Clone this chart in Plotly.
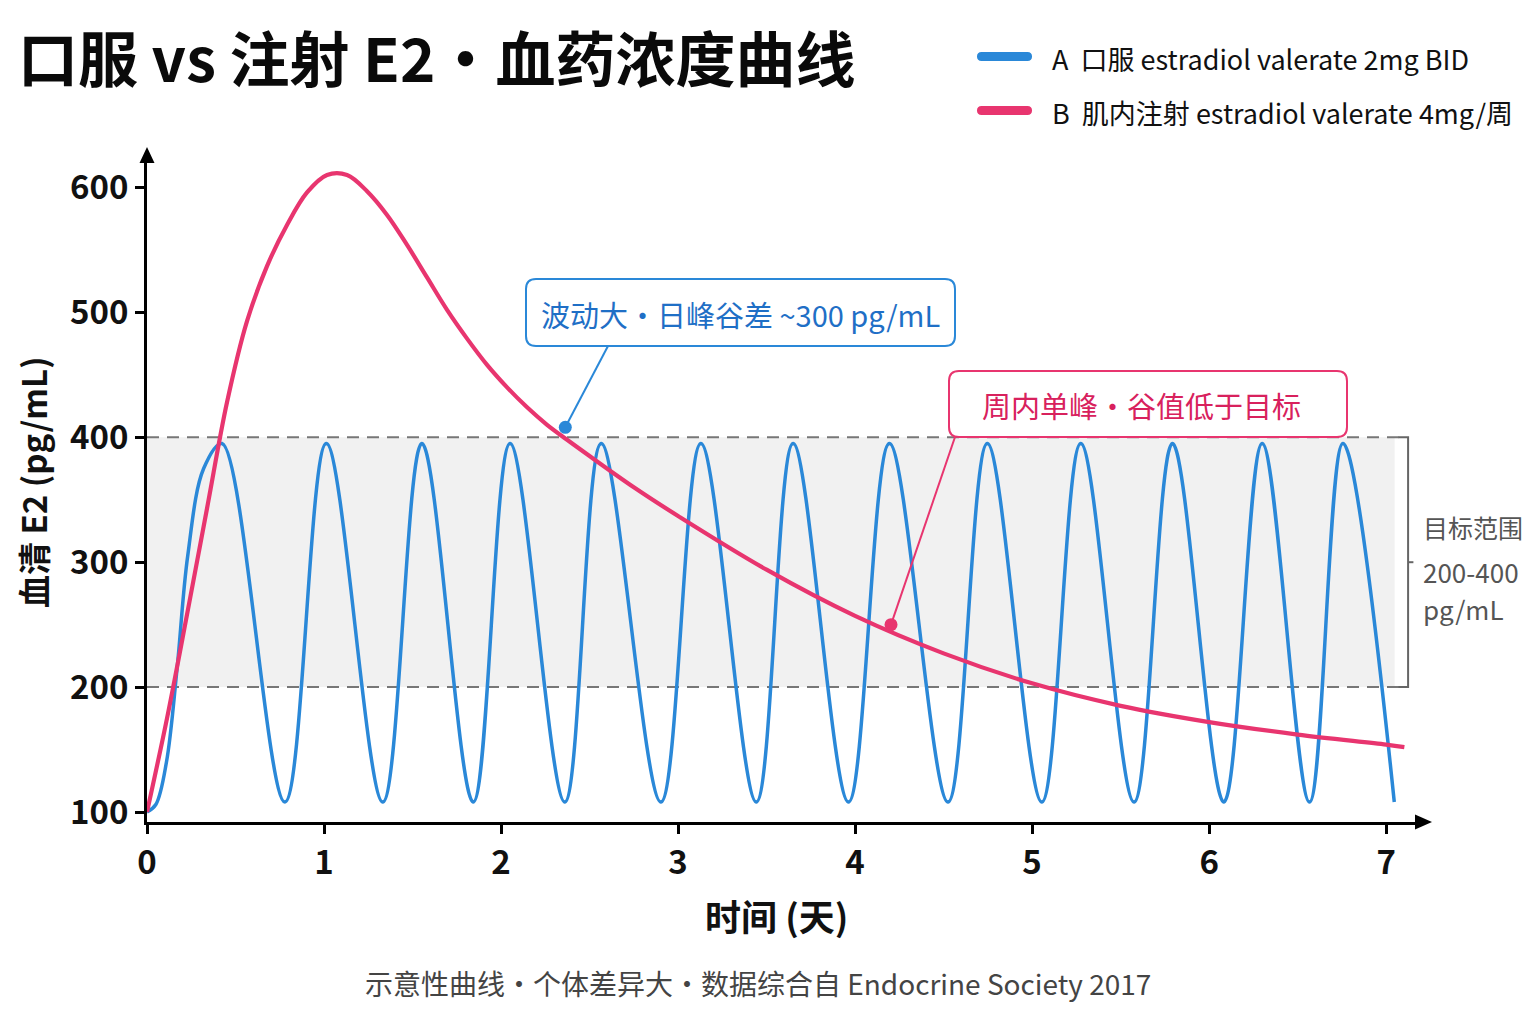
import plotly.graph_objects as go

# ---------------- data ----------------
# A: oral estradiol valerate 2mg BID (days, pg/mL) - first rise, then alternating troughs / peaks
oral_days = [0, 0.050, 0.110, 0.170, 0.230, 0.320, 0.424,
             0.779, 1.013, 1.332, 1.553, 1.843, 2.051, 2.360, 2.566,
             2.903, 3.129, 3.442, 3.650, 3.963, 4.194, 4.525, 4.747,
             5.055, 5.275, 5.576, 5.793, 6.083, 6.300, 6.567, 6.756, 7.046]
oral_e2 = [100, 106, 140, 215, 305, 375, 395,
           108, 395, 108, 395, 108, 395, 108, 395,
           108, 395, 108, 395, 108, 395, 108, 395,
           108, 395, 108, 395, 108, 395, 108, 395, 108]

# B: IM estradiol valerate 4mg / week
im_days = [0, 0.113, 0.226, 0.339, 0.452, 0.565, 0.678, 0.791, 0.904, 1.017,
           1.130, 1.243, 1.356, 1.469, 1.582, 1.695, 1.808, 1.921, 2.034, 2.147,
           2.260, 2.373, 2.500, 2.750, 3.000, 3.500, 4.000, 4.500, 5.000, 5.500,
           6.000, 6.500, 7.000, 7.103]
im_e2 = [100, 175, 258, 343, 428, 493, 537, 570, 596, 610,
         610, 597, 578, 554, 528, 502, 479, 458, 440, 424,
         410, 398, 385, 360, 337, 294, 257, 227, 203, 185,
         172, 162, 154, 152]

x_ticks = [0, 1, 2, 3, 4, 5, 6, 7]
y_ticks = [100, 200, 300, 400, 500, 600]
target_range = [200, 400]

title_text = "口服 vs 注射 E2・血药浓度曲线"
legend_a = "A  口服 estradiol valerate 2mg BID"
legend_b = "B  肌内注射 estradiol valerate 4mg/周"
note_a = "波动大・日峰谷差 ~300 pg/mL"
note_b = "周内单峰・谷值低于目标"
note_a_point = (2.363, 408)
note_b_point = (4.203, 250)
range_label = ["目标范围", "200-400", "pg/mL"]
x_title = "时间 (天)"
y_title = "血清 E2 (pg/mL)"
footnote = "示意性曲线・个体差异大・数据综合自 Endocrine Society 2017"

# ---------------- styling ----------------
BLUE = "#2a88d8"
PINK = "#e8356f"
BLUE_TXT = "#1f6fc6"
PINK_TXT = "#d8215d"
CJK = "Noto Sans CJK SC, sans-serif"

W, H = 1536, 1024
ML, MR, MT, MB = 147, 118, 160, 202
X_RANGE = [0, 7.18]
Y_RANGE = [92, 622]
PW = W - ML - MR
PH = H - MT - MB


def px(x):
    return (x - ML) / PW


def py(y):
    return (H - MB - y) / PH


def P(x, y):
    return f"{px(x):.5f},{py(y):.5f}"


def rrect(x0, y0, x1, y1, r):
    return (f"M {P(x0 + r, y0)} L {P(x1 - r, y0)} Q {P(x1, y0)} {P(x1, y0 + r)} "
            f"L {P(x1, y1 - r)} Q {P(x1, y1)} {P(x1 - r, y1)} L {P(x0 + r, y1)} "
            f"Q {P(x0, y1)} {P(x0, y1 - r)} L {P(x0, y0 + r)} Q {P(x0, y0)} {P(x0 + r, y0)} Z")


def dx(v):
    return (v - X_RANGE[0]) / (X_RANGE[1] - X_RANGE[0])


def dy(v):
    return (v - Y_RANGE[0]) / (Y_RANGE[1] - Y_RANGE[0])


fig = go.Figure()
fig.add_trace(go.Scatter(x=oral_days, y=oral_e2, mode="lines",
                         line=dict(color=BLUE, width=3.5, shape="spline", smoothing=1.0),
                         name=legend_a, hoverinfo="skip"))
fig.add_trace(go.Scatter(x=im_days, y=im_e2, mode="lines",
                         line=dict(color=PINK, width=4.2, shape="spline", smoothing=1.0),
                         name=legend_b, hoverinfo="skip"))

shapes = []
# target band
shapes.append(dict(type="rect", xref="x", yref="y", x0=0, x1=7.048,
                   y0=target_range[0], y1=target_range[1],
                   fillcolor="#f1f1f1", line=dict(width=0), layer="below"))
for yv in target_range:
    shapes.append(dict(type="line", xref="x", yref="y", x0=0, x1=7.08, y0=yv, y1=yv,
                       line=dict(color="#777777", width=2, dash="12px,8px"), layer="below"))
# bracket
bx = 7.124
shapes.append(dict(type="path", xref="x", yref="y",
                   path=f"M 7.07,{target_range[1]} L {bx},{target_range[1]} L {bx},{target_range[0]} L 7.07,{target_range[0]}",
                   line=dict(color="#666666", width=2)))
shapes.append(dict(type="line", xref="x", yref="y", x0=bx, x1=bx + 0.03, y0=300, y1=300,
                   line=dict(color="#666666", width=2)))
# axis arrows
shapes.append(dict(type="path", xref="paper", yref="paper",
                   path=f"M {P(147, 147)} L {P(139.5, 163)} L {P(154.5, 163)} Z",
                   fillcolor="black", line=dict(width=0)))
shapes.append(dict(type="path", xref="paper", yref="paper",
                   path=f"M {P(1432, 822)} L {P(1415, 814.5)} L {P(1415, 829.5)} Z",
                   fillcolor="black", line=dict(width=0)))
# legend pills
shapes.append(dict(type="path", xref="paper", yref="paper", path=rrect(977, 52, 1032, 61, 4.5),
                   fillcolor=BLUE, line=dict(width=0)))
shapes.append(dict(type="path", xref="paper", yref="paper", path=rrect(977, 106, 1032, 115, 4.5),
                   fillcolor=PINK, line=dict(width=0)))
# callout boxes
shapes.append(dict(type="path", xref="paper", yref="paper", path=rrect(526, 279, 955, 346, 10),
                   fillcolor="white", line=dict(color=BLUE, width=2)))
shapes.append(dict(type="path", xref="paper", yref="paper", path=rrect(949, 371, 1347, 437, 10),
                   fillcolor="white", line=dict(color=PINK, width=2)))
# leader lines
shapes.append(dict(type="line", xref="paper", yref="paper",
                   x0=px(608), y0=py(346), x1=dx(note_a_point[0]), y1=dy(note_a_point[1]),
                   line=dict(color=BLUE, width=2)))
shapes.append(dict(type="line", xref="paper", yref="paper",
                   x0=px(955), y0=py(437), x1=dx(note_b_point[0]), y1=dy(note_b_point[1]),
                   line=dict(color=PINK, width=2)))
for (xd, yd), col in [(note_a_point, BLUE), (note_b_point, PINK)]:
    shapes.append(dict(type="circle", xref="x", yref="y", xsizemode="pixel", ysizemode="pixel",
                       xanchor=xd, yanchor=yd, x0=-6.5, x1=6.5, y0=-6.5, y1=6.5,
                       fillcolor=col, line=dict(width=0)))

ann = []


def text(x, y, s, size, color="#111111", xanchor="left", bold=False, angle=0):
    ann.append(dict(xref="paper", yref="paper", x=px(x), y=py(y), text=(f"<b>{s}</b>" if bold else s),
                    showarrow=False, xanchor=xanchor, yanchor="middle", textangle=angle,
                    font=dict(size=size, color=color, family=CJK)))


text(16, 56, title_text, 60, color="#0a0a0a", bold=True)
text(1050, 58, legend_a, 27)
text(1050, 113, legend_b, 27)
text(740, 314, note_a, 29, color=BLUE_TXT, xanchor="center")
text(1141, 405, note_b, 29, color=PINK_TXT, xanchor="center")
text(1421, 527, range_label[0], 25, color="#555555")
text(1421, 571, range_label[1], 26, color="#555555")
text(1421, 608, range_label[2], 26, color="#555555")
text(776, 915, x_title, 36, xanchor="center", bold=True)
text(33, 482, y_title, 33, xanchor="center", bold=True, angle=-90)
text(758, 983, footnote, 28, color="#444444", xanchor="center")

axis_common = dict(showline=True, linecolor="black", linewidth=3, ticks="outside",
                   ticklen=9, tickwidth=2.5, tickcolor="black", showgrid=False, zeroline=False,
                   tickfont=dict(size=33, color="#111111", family=CJK, weight="bold"))

fig.update_layout(
    width=W, height=H,
    margin=dict(l=ML, r=MR, t=MT, b=MB, autoexpand=False),
    paper_bgcolor="white", plot_bgcolor="white",
    showlegend=False,
    xaxis=dict(range=X_RANGE, tickvals=x_ticks, ticktext=[str(v) for v in x_ticks], **axis_common),
    yaxis=dict(range=Y_RANGE, tickvals=y_ticks, ticktext=[str(v) for v in y_ticks], **axis_common),
    shapes=shapes, annotations=ann,
)

fig.write_html("out.html")
